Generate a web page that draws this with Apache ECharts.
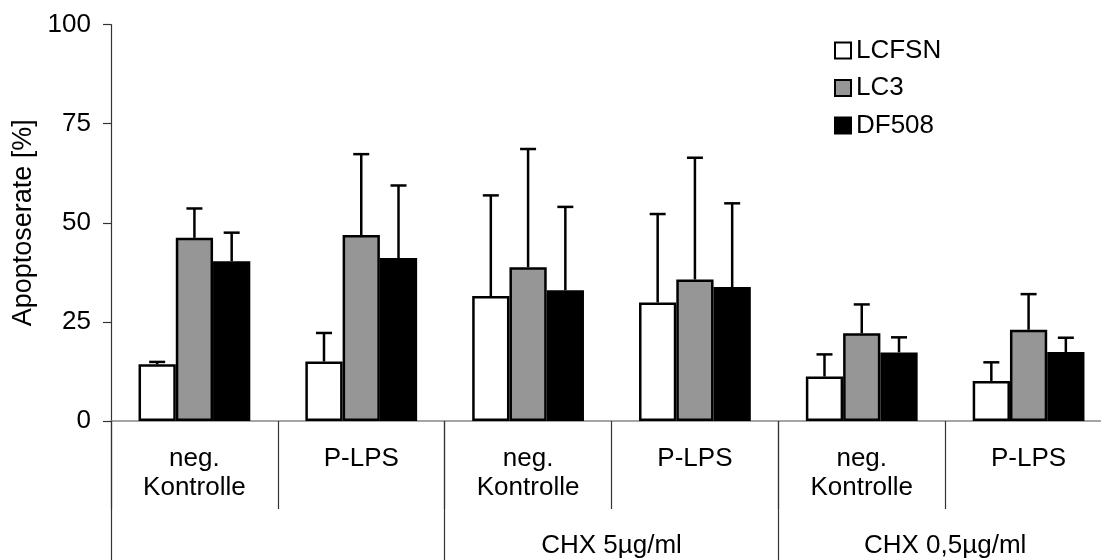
<!DOCTYPE html>
<html>
<head>
<meta charset="utf-8">
<script src="https://cdn.jsdelivr.net/npm/echarts@6/dist/echarts.min.js"></script>
<style>
  html, body { margin: 0; padding: 0; background: #fff; overflow: hidden; }
  #chart { width: 1112px; height: 560px; }
</style>
</head>
<body>
<div id="chart"></div>
<script>
// Treatment conditions (inner level) and CHX groups (outer level)
const categories = ['neg.\nKontrolle', 'P-LPS', 'neg.\nKontrolle', 'P-LPS', 'neg.\nKontrolle', 'P-LPS'];
const groups = ['', 'CHX 5\u00b5g/ml', 'CHX 0,5\u00b5g/ml'];
const yTicks = [0, 25, 50, 75, 100];

// Mean apoptosis rate [%]
const lcfsn = [14.3, 15.0, 31.5, 29.9, 11.2, 10.1];
const lc3   = [46.2, 46.9, 38.8, 35.7, 22.1, 23.0];
const df508 = [40.3, 41.1, 33.0, 33.8, 17.3, 17.4];

// Standard deviations (upper whisker)
const lcfsnSd = [0.6, 7.2, 25.4, 22.3, 5.6, 4.7];
const lc3Sd   = [7.4, 20.4, 29.8, 30.7, 7.3, 9.0];
const df508Sd = [7.2, 18.3, 21.0, 21.1, 3.8, 3.6];

const seriesDefs = [
  { name: 'LCFSN', values: lcfsn, sd: lcfsnSd, color: '#ffffff' },
  { name: 'LC3',   values: lc3,   sd: lc3Sd,   color: '#969696' },
  { name: 'DF508', values: df508, sd: df508Sd, color: '#000000' }
];

const FONT = '"Liberation Sans", Arial, sans-serif';
const FS = 26;
const CAT_GAP = 0.33;

const chart = echarts.init(document.getElementById('chart'), null, { renderer: 'canvas' });

function errorSeries(def, idx) {
  return {
    type: 'custom',
    name: def.name + ' SD',
    xAxisIndex: 0,
    yAxisIndex: 0,
    z: 1,
    silent: true,
    data: def.values.map((v, i) => [i, v, v + def.sd[i]]),
    renderItem: function (params, api) {
      const band = api.size([1, 0])[0];
      const barW = band * (1 - CAT_GAP) / 3;
      const base = api.coord([api.value(0), api.value(1)]);
      const top = api.coord([api.value(0), api.value(2)]);
      const x = base[0] + (idx - 1) * barW;
      const cap = 8;
      const style = { stroke: '#000', lineWidth: 2.5, fill: null };
      return {
        type: 'group',
        children: [
          { type: 'line', shape: { x1: x, y1: base[1], x2: x, y2: top[1] }, style: style },
          { type: 'line', shape: { x1: x - cap, y1: top[1], x2: x + cap, y2: top[1] }, style: style }
        ]
      };
    }
  };
}

const barSeries = seriesDefs.map(def => ({
  type: 'bar',
  name: def.name,
  xAxisIndex: 0,
  yAxisIndex: 0,
  data: def.values,
  barGap: '0%',
  barCategoryGap: (CAT_GAP * 100) + '%',
  z: 2,
  itemStyle: { color: def.color, borderColor: '#000', borderWidth: 2.5 }
}));

const option = {
  animation: false,
  backgroundColor: '#ffffff',
  textStyle: { fontFamily: FONT },
  grid: { left: 111, right: 0, top: 24.5, bottom: 138, containLabel: false },
  legend: {
    orient: 'vertical',
    left: 834,
    top: 37.5,
    padding: 0,
    itemWidth: 16,
    itemHeight: 16,
    itemGap: 11.5,
    icon: 'rect',
    data: seriesDefs.map(d => d.name),
    itemStyle: { borderColor: '#000', borderWidth: 2 },
    textStyle: { fontFamily: FONT, fontSize: FS, color: '#000', lineHeight: 26, padding: [0, 0, 0, 0] }
  },
  xAxis: [
    {
      type: 'category',
      data: categories,
      position: 'bottom',
      axisLine: { show: true, lineStyle: { color: '#888', width: 1.5 } },
      axisTick: { show: true, alignWithLabel: false, interval: 0, length: 88, lineStyle: { color: '#333', width: 1.2 } },
      axisLabel: { interval: 0, margin: 23, fontSize: FS, lineHeight: 29, color: '#000', fontFamily: FONT },
      splitLine: { show: false }
    },
    {
      type: 'category',
      data: groups,
      position: 'bottom',
      gridIndex: 0,
      axisLine: { show: false },
      axisTick: { show: true, interval: 0, length: 150, lineStyle: { color: '#333', width: 1.2 } },
      axisLabel: { interval: 0, margin: 111, fontSize: FS, lineHeight: 28, color: '#000', fontFamily: FONT },
      splitLine: { show: false }
    }
  ],
  yAxis: {
    type: 'value',
    min: yTicks[0],
    max: yTicks[yTicks.length - 1],
    interval: 25,
    name: 'Apoptoserate [%]',
    nameLocation: 'middle',
    nameRotate: 90,
    nameGap: 74,
    nameTextStyle: { fontSize: 27, color: '#000', fontFamily: FONT },
    axisLine: { show: true, lineStyle: { color: '#333', width: 1.2 } },
    axisTick: { show: true, length: 8, lineStyle: { color: '#333', width: 1.2 } },
    axisLabel: { margin: 20, fontSize: FS, color: '#000', fontFamily: FONT },
    splitLine: { show: false }
  },
  series: barSeries.concat(seriesDefs.map(errorSeries))
};

chart.setOption(option);
</script>
</body>
</html>
